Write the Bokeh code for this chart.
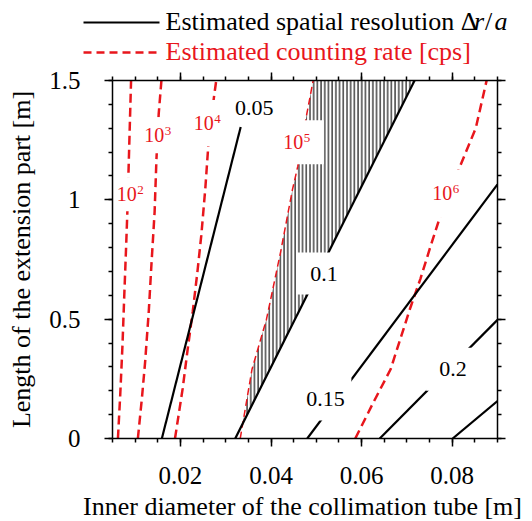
import numpy as np
from bokeh.plotting import figure
from bokeh.models import Range1d, FixedTicker, LinearAxis
from bokeh.layouts import column
from bokeh.embed import file_html
from bokeh.resources import INLINE
from bokeh.core.properties import value

# ---------------- data ----------------
x_ticks = [0.02, 0.04, 0.06, 0.08]
x_tick_labels = ["0.02", "0.04", "0.06", "0.08"]
y_ticks = [0.0, 0.5, 1.0, 1.5]
y_tick_labels = ["0", "0.5", "1", "1.5"]

# estimated spatial resolution contours (dr/a)
res_005_x = [0.0159, 0.0333]
res_005_y = [0.0, 1.305]
res_010_x = [0.0321, 0.0717]
res_010_y = [0.0, 1.5]
res_015_x = [0.0480, 0.0900]
res_015_y = [0.0, 1.065]
res_020_x = [0.0640, 0.0900]
res_020_y = [0.0, 0.497]
res_025_x = [0.0801, 0.0900]
res_025_y = [0.0, 0.157]

# estimated counting rate contours [cps]
rate_1e2_y = [0.0, 0.18, 0.39, 0.60, 0.80, 0.96, 1.23, 1.5]
rate_1e2_x = [0.0062, 0.0067, 0.0072, 0.0076, 0.0080, 0.0083, 0.0087, 0.0091]
rate_1e3_y = [0.0, 0.17, 0.32, 0.53, 0.73, 0.95, 1.17, 1.36, 1.5]
rate_1e3_x = [0.0106, 0.0115, 0.0122, 0.0130, 0.0136, 0.0143, 0.0147, 0.0152, 0.0158]
rate_1e4_y = [0.0, 0.21, 0.36, 0.53, 0.69, 0.85, 1.05, 1.24, 1.43, 1.5]
rate_1e4_x = [0.0188, 0.0205, 0.0215, 0.0227, 0.0237, 0.0246, 0.0255, 0.0262, 0.0274, 0.0279]
rate_1e5_y = [0.0, 0.29, 0.50, 0.78, 1.04, 1.14, 1.35, 1.5]
rate_1e5_x = [0.0332, 0.0358, 0.0390, 0.0421, 0.0447, 0.0459, 0.0478, 0.0493]
rate_1e6_y = [0.0, 0.155, 0.29, 0.42, 0.55, 0.67, 0.81, 0.94, 1.13, 1.30, 1.5]
rate_1e6_x = [0.0586, 0.0627, 0.0664, 0.0686, 0.0708, 0.0730, 0.0753, 0.0775, 0.0815, 0.0852, 0.0876]

# contour labels
res_label_text = ["0.05", "0.1", "0.15", "0.2"]
res_label_x = [0.0363, 0.0517, 0.0520, 0.0802]
res_label_y = [1.385, 0.691, 0.166, 0.290]
rate_label_exp = ["2", "3", "4", "5", "6"]
rate_label_x = [0.0089, 0.0150, 0.0259, 0.0457, 0.0786]
rate_label_y = [1.023, 1.271, 1.322, 1.241, 1.027]

x_title = "Inner diameter of the collimation tube [m]"
y_title = "Length of the extension part [m]"
legend_res_text = "Estimated spatial resolution Δ"
legend_rate_text = "Estimated counting rate [cps]"

# ---------------- styles / layout ----------------
FONT = "Liberation Serif"
RED = "#e8161c"
res_mask_w = [0, 54, 52, 54]
res_mask_h = [0, 42, 43, 43]
rate_mask_w = [32, 32, 34, 54, 36]
rate_mask_h = [34, 36, 46, 44, 48]

W, TOTAL_H = 532, 521
LEG_H = 66          # legend strip
BL, BR = 112, 35    # frame left/right borders
BT, BB = 14, 15     # main figure top/bottom borders
FH = 358            # frame height
MAIN_H = BT + FH + BB
BOT_H = TOTAL_H - LEG_H - MAIN_H
BOT_Y0 = LEG_H + MAIN_H
X0, X1 = 0.005, 0.09


def xpix(v):  # data x -> canvas pixel x (same mapping as the main frame)
    return BL + (v - X0) / (X1 - X0) * (W - BL - BR)


# ---------------- main figure ----------------
p = figure(width=W, height=MAIN_H,
           x_range=Range1d(X0, X1), y_range=Range1d(0.0, 1.5),
           toolbar_location=None, output_backend="svg",
           min_border_left=BL, min_border_right=BR,
           min_border_top=BT, min_border_bottom=BB,
           y_axis_label=y_title)
p.grid.visible = False
p.outline_line_color = None
p.background_fill_color = "white"
p.border_fill_color = "white"
if "frame_align" in p.properties():
    p.frame_align = False

x_minor = list(np.round(np.arange(0.005, 0.09001, 0.005), 4))
y_minor = list(np.round(np.arange(0.0, 1.5001, 0.1), 2))
xt = FixedTicker(ticks=x_ticks, minor_ticks=x_minor)
yt = FixedTicker(ticks=y_ticks, minor_ticks=y_minor)

top_ax = LinearAxis()
right_ax = LinearAxis()
p.add_layout(top_ax, "above")
p.add_layout(right_ax, "right")
bottom_ax = p.below[0]
left_ax = p.left[0]

for ax in (bottom_ax, top_ax):
    ax.ticker = xt
for ax in (left_ax, right_ax):
    ax.ticker = yt

for ax in (bottom_ax, top_ax, left_ax, right_ax):
    ax.axis_line_width = 1.5
    ax.axis_line_color = "black"
    ax.major_tick_line_width = 1.5
    ax.minor_tick_line_width = 1.5
    ax.major_tick_line_color = "black"
    ax.minor_tick_line_color = "black"
    ax.major_tick_out = 8
    ax.major_tick_in = 0
    ax.minor_tick_out = 4
    ax.minor_tick_in = 0
    ax.major_label_text_font = FONT
    ax.major_label_text_font_size = "25px"
    ax.major_label_text_color = "black"
    ax.axis_label_text_font = FONT
    ax.axis_label_text_font_size = "26px"
    ax.axis_label_text_font_style = "normal"
    ax.axis_label_text_color = "black"

left_ax.major_label_overrides = {t: s for t, s in zip(y_ticks, y_tick_labels)}
left_ax.major_label_standoff = 24
left_ax.axis_label_standoff = 10
for ax in (top_ax, right_ax, bottom_ax):
    ax.major_label_text_color = None
    ax.major_label_standoff = 0
    ax.axis_label = None

# hatched region between the 10^5 counting-rate line and the 0.1 resolution line
yg = np.linspace(0.0, 1.5, 601)
left = np.interp(yg, rate_1e5_y, rate_1e5_x)
right = np.interp(yg, res_010_y, res_010_x)
m = left < right
hx = np.concatenate([left[m], right[m][::-1]])
hy = np.concatenate([yg[m], yg[m][::-1]])
p.patch(hx, hy, fill_color=None, fill_alpha=0, line_color=None,
        hatch_pattern="vertical_line", hatch_color="black",
        hatch_weight=1.1, hatch_scale=3.7)

# counting rate lines
for xs, ys, lw, dash in [(rate_1e2_x, rate_1e2_y, 2.5, "9 5"),
                         (rate_1e3_x, rate_1e3_y, 2.5, "9 5"),
                         (rate_1e4_x, rate_1e4_y, 2.5, "9 5"),
                         (rate_1e5_x, rate_1e5_y, 1.5, "7 4"),
                         (rate_1e6_x, rate_1e6_y, 2.5, "9 5")]:
    p.line(xs, ys, line_color=RED, line_width=lw, line_dash=dash)

# resolution lines
for xs, ys in [(res_005_x, res_005_y), (res_010_x, res_010_y),
               (res_015_x, res_015_y), (res_020_x, res_020_y),
               (res_025_x, res_025_y)]:
    p.line(xs, ys, line_color="black", line_width=2.2)

# white masks behind inline labels
p.rect(x=res_label_x, y=res_label_y, width=res_mask_w, height=res_mask_h,
       width_units="screen", height_units="screen",
       fill_color="white", line_color=None)
p.rect(x=rate_label_x, y=rate_label_y, width=rate_mask_w, height=rate_mask_h,
       width_units="screen", height_units="screen",
       fill_color="white", line_color=None)

# labels
p.text(x=res_label_x, y=res_label_y, text=res_label_text,
       text_font=value(FONT), text_font_size="22px", text_color="black",
       text_align="center", text_baseline="middle")
p.text(x=rate_label_x, y=rate_label_y, text=["10"] * len(rate_label_x),
       text_font=value(FONT), text_font_size="20px", text_color=RED,
       text_align="right", text_baseline="middle", x_offset=6.5)
p.text(x=rate_label_x, y=rate_label_y, text=rate_label_exp,
       text_font=value(FONT), text_font_size="13px", text_color=RED,
       text_align="left", text_baseline="middle", x_offset=7.0, y_offset=-4)


def strip(h):
    f = figure(width=W, height=h, x_range=Range1d(0, W), y_range=Range1d(h, 0),
               x_axis_type=None, y_axis_type=None, toolbar_location=None,
               output_backend="svg", min_border=0, outline_line_color=None)
    f.grid.visible = False
    if "frame_align" in f.properties():
        f.frame_align = False
    return f


# ---------------- legend strip (pixel coordinates, y downward) ----------------
lg = strip(LEG_H)
lg.line([83, 159], [22, 22], line_color="black", line_width=2)
lg.line([83, 159], [52, 52], line_color=RED, line_width=2.5, line_dash="8 5")
lg.text(x=[165], y=[21.4], text=[legend_res_text], text_font=value(FONT),
        text_font_size="26px", text_color="black", text_baseline="middle")
lg.text(x=[473.5, 494.0], y=[21.4, 21.4], text=["r", "a"], text_font=value(FONT),
        text_font_size="26px", text_font_style="italic", text_color="black",
        text_baseline="middle")
lg.text(x=[484.5], y=[21.4], text=["/"], text_font=value(FONT),
        text_font_size="26px", text_color="black", text_baseline="middle")
lg.text(x=[165], y=[51.4], text=[legend_rate_text], text_font=value(FONT),
        text_font_size="26px", text_color=RED, text_baseline="middle")

# ---------------- bottom strip: x tick labels and x title ----------------
bt = strip(BOT_H)
bt.text(x=[xpix(v) for v in x_ticks], y=[474.5 - BOT_Y0] * len(x_ticks),
        text=x_tick_labels, text_font=value(FONT), text_font_size="25px",
        text_color="black", text_align="center", text_baseline="middle")
bt.text(x=[302], y=[506.0 - BOT_Y0], text=[x_title], text_font=value(FONT),
        text_font_size="26px", text_color="black", text_align="center",
        text_baseline="middle")

layout = column(lg, p, bt, spacing=0)
open("out.html", "w").write(file_html(layout, INLINE))
